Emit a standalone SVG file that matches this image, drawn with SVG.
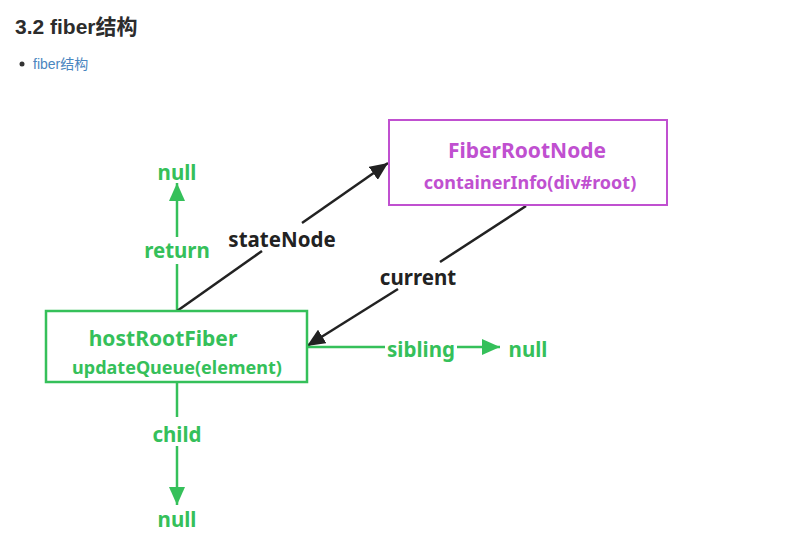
<svg xmlns="http://www.w3.org/2000/svg" width="793" height="542" viewBox="0 0 793 542">
<style>
  .g { stroke: #35c05a; stroke-width: 2.5; fill: none; }
  .k { stroke: #222; stroke-width: 2.5; fill: none; }
  .lg { fill: #35c05a; font-family: "Noto Sans", "Open Sans", sans-serif; font-weight: bold; font-size: 20.5px; text-anchor: middle; }
  .lk { fill: #222; font-family: "Noto Sans", "Open Sans", sans-serif; font-weight: bold; font-size: 20.5px; text-anchor: middle; }
  .tm { fill: #c050d0; font-family: "Noto Sans", "Open Sans", sans-serif; font-weight: bold; text-anchor: middle; }
  .tg { fill: #35c05a; font-family: "Noto Sans", "Open Sans", sans-serif; font-weight: bold; text-anchor: middle; }
</style>
<defs>
  <marker id="ag" markerUnits="userSpaceOnUse" markerWidth="20" markerHeight="16" refX="18" refY="8" orient="auto">
    <path d="M0,0 L18,8 L0,16 Z" fill="#35c05a"/>
  </marker>
  <marker id="ak" markerUnits="userSpaceOnUse" markerWidth="20" markerHeight="16" refX="18" refY="8" orient="auto">
    <path d="M0,0 L18,8 L0,16 Z" fill="#222"/>
  </marker>
</defs>
<rect width="793" height="542" fill="#ffffff"/>
<g id="header">
  <text x="15" y="34" font-family="Liberation Sans, Noto Sans CJK SC, sans-serif" font-weight="bold" font-size="21" fill="#2c2c2c">3.2 fiber结构</text>
  <circle cx="22" cy="64" r="2.5" fill="#333"/>
  <text x="33" y="69" font-family="Liberation Sans, Noto Sans CJK SC, sans-serif" font-size="14" fill="#4a86c0">fiber结构</text>
</g>
<g id="connectors">
  <line class="g" x1="177" y1="311" x2="177" y2="237"/>
  <line class="g" x1="177" y1="264" x2="177" y2="183" marker-end="url(#ag)"/>
  <line class="k" x1="177" y1="311" x2="262" y2="251"/>
  <line class="k" x1="302" y1="223" x2="388" y2="163" marker-end="url(#ak)"/>
  <line class="k" x1="526" y1="206" x2="440" y2="262"/>
  <line class="k" x1="398" y1="289" x2="307" y2="346" marker-end="url(#ak)"/>
  <line class="g" x1="307" y1="347" x2="385" y2="347"/>
  <line class="g" x1="457" y1="347" x2="500" y2="347" marker-end="url(#ag)"/>
  <line class="g" x1="177" y1="382" x2="177" y2="417"/>
  <line class="g" x1="177" y1="446" x2="177" y2="505" marker-end="url(#ag)"/>
</g>
<g id="labels">
  <rect x="146" y="237" width="62" height="27" fill="#fff"/>
  <text class="lg" x="177" y="258">return</text>
  <text class="lk" x="282" y="247">stateNode</text>
  <text class="lk" x="418" y="285">current</text>
  <text class="lg" x="421" y="357">sibling</text>
  <text class="lg" x="177" y="442">child</text>
</g>
<g id="null-return"><text class="lg" x="177" y="180">null</text></g>
<g id="null-sibling"><text class="lg" x="528" y="357">null</text></g>
<g id="null-child"><text class="lg" x="177" y="527">null</text></g>
<g id="fiberRootNode">
  <rect x="389" y="120" width="278" height="85" fill="none" stroke="#c050d0" stroke-width="2"/>
  <text class="tm" x="527" y="158" font-size="21">FiberRootNode</text>
  <text class="tm" x="530" y="189" font-size="18">containerInfo(div#root)</text>
</g>
<g id="hostRootFiber">
  <rect x="46" y="311" width="261" height="71" fill="none" stroke="#35c05a" stroke-width="2.5"/>
  <text class="tg" x="163" y="346" font-size="21">hostRootFiber</text>
  <text class="tg" x="177" y="374" font-size="18">updateQueue(element)</text>
</g>
</svg>
